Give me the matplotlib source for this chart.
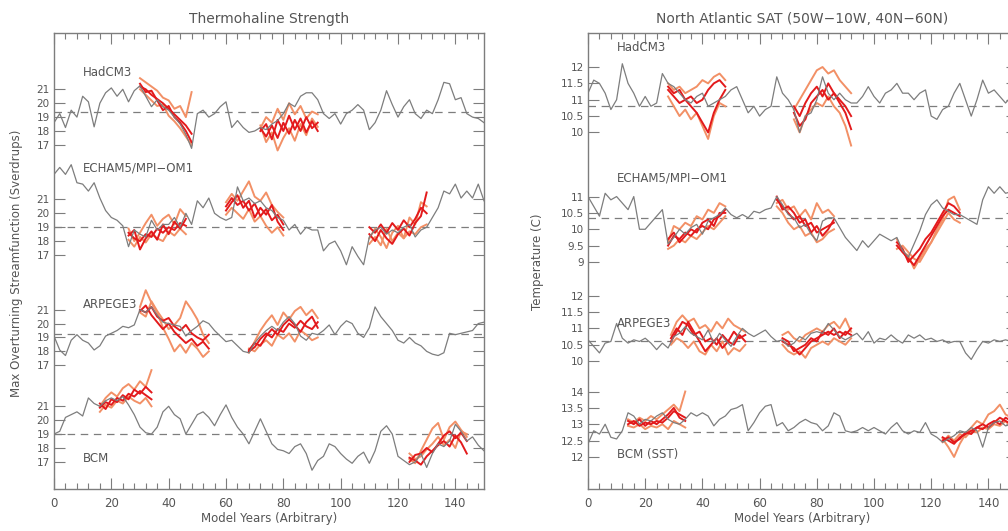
import numpy as np
import matplotlib
matplotlib.use("Agg")
import matplotlib.pyplot as plt
from matplotlib.ticker import MultipleLocator

# ---------------- DATA ----------------
# control runs, one value every 2 model years (0..150)
L_HAD = [18.6,19.25,18.25,19.5,19.0,20.5,20.1,18.3,20.0,20.75,
         21.1,20.5,21.0,20.1,20.9,21.25,20.5,19.75,20.25,19.75,
         19.5,19.0,18.5,17.75,16.75,19.25,19.5,19.0,19.25,19.75,
         20.1,18.25,18.75,18.25,17.9,18.0,18.25,18.1,18.5,18.75,
         19.25,20.0,19.75,20.5,20.75,20.75,20.25,19.25,18.9,19.25,
         18.5,19.25,19.5,19.9,19.5,18.1,18.6,19.5,20.9,19.9,
         19.0,19.75,20.25,19.25,18.9,19.5,19.25,20.25,21.5,21.4,
         20.25,20.4,19.25,19.0,18.9,18.6]
L_ECH = [22.8,23.3,22.8,23.5,22.2,22.1,21.6,22.2,21.1,20.2,
         19.7,19.5,19.1,17.6,18.8,18.5,18.3,19.5,18.8,19.2,
         19.2,19.7,19.0,20.0,19.2,20.9,20.4,21.1,20.0,19.7,
         19.5,19.7,21.9,20.9,21.1,20.7,20.9,20.4,20.2,19.7,
         19.5,18.8,19.2,18.5,19.0,18.8,18.8,17.3,17.8,18.0,
         17.3,16.3,17.6,16.9,16.3,18.3,18.8,19.0,18.5,18.8,
         18.6,19.0,19.2,18.3,18.8,19.0,19.7,20.4,21.6,21.4,
         22.1,21.1,21.6,21.1,22.1,20.9]
L_ARP = [19.1,18.1,17.7,18.8,19.2,18.8,18.6,18.1,18.4,19.1,
         19.3,19.5,19.8,19.7,19.9,21.0,20.8,21.2,20.6,20.1,
         20.0,19.9,19.8,19.1,19.5,19.8,20.2,20.0,19.5,19.1,
         18.7,18.8,18.4,18.0,17.9,18.6,19.1,19.5,19.8,19.5,
         20.1,20.5,20.0,19.1,18.8,19.3,19.2,19.5,19.9,19.2,
         19.8,20.2,20.0,19.3,19.0,19.7,21.2,20.5,20.0,19.5,
         18.8,18.6,19.0,18.6,18.4,18.0,17.8,17.7,17.9,19.3,
         19.2,19.3,19.4,19.5,20.0,20.1]
L_BCM = [19.0,19.2,20.2,20.4,20.6,20.3,21.6,21.2,21.0,21.4,
         21.6,21.4,21.7,21.1,20.4,19.5,19.1,19.0,19.5,20.6,
         21.0,20.4,20.1,19.0,19.7,20.4,20.6,20.2,19.6,20.4,
         21.1,20.2,19.5,19.0,18.3,19.2,20.1,19.2,18.3,17.9,
         17.8,17.6,18.1,18.3,17.6,16.4,17.1,17.4,18.3,18.1,
         17.6,17.2,16.9,17.4,17.7,16.9,17.8,19.2,19.6,19.0,
         17.4,17.1,16.8,17.0,17.6,16.6,17.6,18.3,18.1,18.5,
         19.7,19.2,18.5,18.8,18.2,17.8]

R_HAD = [11.2,11.6,11.5,11.2,10.7,11.0,12.1,11.5,11.2,10.8,
         11.1,10.8,10.9,11.8,11.5,11.4,11.2,11.0,10.9,11.1,
         11.2,10.8,10.9,11.0,11.1,11.3,11.4,11.0,10.6,10.8,
         10.5,10.7,10.8,11.7,11.2,11.0,10.7,10.0,10.5,10.6,
         11.0,11.7,11.2,11.0,11.2,11.0,10.9,10.9,11.1,11.4,
         11.1,10.9,11.2,11.3,11.5,11.2,11.2,11.0,11.2,11.3,
         10.5,10.4,10.7,10.8,11.2,11.5,11.0,10.5,11.0,11.6,
         11.2,11.3,11.1,10.9,11.1,11.0]
R_ECH = [11.0,10.7,10.4,11.1,10.9,11.0,10.8,10.6,11.0,10.0,
         10.0,10.2,10.4,10.6,9.55,9.75,10.0,9.85,10.05,10.15,
         9.85,10.25,10.35,10.45,10.65,10.45,10.35,10.45,10.35,10.55,
         10.5,10.6,10.65,11.0,10.75,10.45,10.35,10.05,10.15,9.85,
         9.65,10.25,10.35,10.35,10.05,9.75,9.55,9.35,9.65,9.45,
         9.65,9.85,9.75,9.65,9.75,9.35,9.15,9.55,9.95,10.45,
         10.75,10.9,10.65,10.55,10.45,10.45,10.35,10.25,10.15,10.9,
         11.3,11.1,11.3,11.1,11.15,11.1]
R_ARP = [10.65,10.45,10.25,10.55,10.6,11.15,10.7,10.55,10.65,10.6,
         10.7,10.55,10.35,10.55,10.4,10.75,10.85,11.05,10.85,10.75,
         10.65,10.95,10.55,10.85,10.65,10.45,10.75,11.0,10.85,10.75,
         10.85,10.95,10.75,10.6,10.65,10.45,10.55,10.75,10.65,10.85,
         10.9,10.85,11.15,10.95,10.75,10.65,10.75,10.85,10.65,10.9,
         10.55,10.7,10.65,10.8,10.65,10.55,10.8,10.7,10.8,10.65,
         10.7,10.6,10.65,10.55,10.6,10.6,10.25,10.05,10.35,10.6,
         10.55,10.65,10.6,10.65,10.6,10.65]
R_BCM = [12.4,12.8,12.7,13.0,12.6,12.55,12.8,13.35,13.25,13.0,
         13.15,13.1,13.25,13.35,13.15,13.05,13.0,13.15,13.35,13.25,
         13.35,13.25,12.95,13.15,13.25,13.45,13.5,13.6,12.8,13.05,
         13.35,13.55,13.6,12.95,13.05,12.8,12.9,13.05,13.15,13.05,
         13.0,12.8,12.95,13.35,13.25,12.8,12.75,12.8,12.9,12.8,
         12.9,12.8,12.7,12.9,13.05,12.8,12.7,12.8,12.75,13.05,
         12.7,12.6,12.45,12.55,12.65,12.8,12.75,12.9,12.8,12.3,
         12.9,13.05,13.1,12.95,13.0,12.95]

# long-term means (dashed lines)
L_MEANS = [19.35, 19.0, 19.25, 19.0]
R_MEANS = [10.8, 10.35, 10.6, 12.75]

# perturbed ensembles: start year, members every 2 years [red, red, orange, orange]
L_HAD_E1_YR0 = 30
L_HAD_E1 = [[21.2,21.0,20.6,20.3,20.0,19.6,19.2,18.8,18.4,17.8],
            [21.4,20.8,20.9,20.2,19.5,19.8,19.0,18.6,18.0,17.2],
            [21.8,21.5,21.2,20.9,20.4,20.2,19.6,19.8,19.0,20.8],
            [21.0,20.6,20.2,19.8,19.9,19.1,18.7,18.2,17.6,17.0]]
L_HAD_E2_YR0 = 72
L_HAD_E2 = [[18.2,17.6,18.4,17.5,18.6,17.8,18.8,18.0,19.0,18.2,18.6],
            [18.0,18.5,17.4,18.8,18.0,19.1,18.1,18.9,17.9,18.7,18.0],
            [18.4,17.2,17.9,16.6,17.5,18.2,17.3,18.5,17.7,18.9,18.3],
            [18.2,19.0,18.6,19.6,18.8,20.0,19.2,19.8,18.9,19.4,19.2]]
L_ECH_E1_YR0 = 26
L_ECH_E1 = [[18.6,18.2,18.0,18.5,18.3,18.9,18.6,19.0,18.8,19.3,19.1],
            [18.4,18.8,17.4,18.2,18.7,18.1,19.2,18.5,19.4,18.9,19.6],
            [18.9,18.0,18.6,19.3,19.9,19.1,19.6,19.9,19.2,20.3,19.8],
            [18.1,17.6,18.3,17.9,18.5,18.2,18.0,18.7,18.4,18.9,18.5]]
L_ECH_E2_YR0 = 60
L_ECH_E2 = [[20.5,21.1,20.6,20.9,20.2,20.7,19.8,20.3,19.5,19.9,19.2],
            [20.2,20.8,21.3,20.4,20.9,19.7,20.4,19.9,20.6,19.4,18.8],
            [20.8,21.4,20.9,21.6,22.3,21.2,20.9,21.5,20.6,20.1,19.7],
            [19.9,20.4,20.0,19.6,20.3,19.4,19.8,19.1,18.6,19.0,18.4]]
L_ECH_E3_YR0 = 110
L_ECH_E3 = [[18.5,18.0,18.8,18.2,17.8,18.5,18.9,18.4,19.3,19.8,21.5],
            [19.0,18.6,19.2,18.6,19.3,18.8,19.5,19.0,19.6,20.4,20.0],
            [18.2,18.9,18.3,17.5,18.6,19.1,18.2,19.7,19.2,20.8,20.5],
            [17.8,18.3,17.7,18.9,18.0,18.6,18.2,18.7,18.5,19.0,19.2]]
L_ARP_E1_YR0 = 30
L_ARP_E1 = [[21.0,20.8,21.2,20.5,20.2,20.4,19.8,19.5,19.9,19.3,19.0,18.8,19.2],
            [20.9,21.3,20.6,20.1,19.6,20.0,19.4,19.0,18.6,18.9,18.4,18.7,18.2],
            [21.2,22.4,21.5,20.8,19.7,18.9,18.0,18.5,17.9,18.6,18.2,17.6,18.0],
            [20.8,20.5,21.6,20.9,20.3,19.6,19.9,20.4,21.6,21.0,20.3,19.2,18.6]]
L_ARP_E2_YR0 = 68
L_ARP_E2 = [[18.0,18.3,18.9,19.3,19.0,19.6,19.4,20.0,19.7,20.2,19.8,19.6,20.1],
            [18.1,18.6,18.4,19.1,19.6,19.2,19.9,20.3,19.9,19.4,20.1,20.5,19.7],
            [17.9,18.7,19.5,20.1,20.6,19.9,20.8,20.3,20.9,21.2,20.6,21.0,20.4],
            [18.2,18.0,18.5,18.8,18.4,19.2,18.9,19.3,18.7,19.5,19.2,18.8,19.0]]
L_BCM_E1_YR0 = 16
L_BCM_E1 = [[20.9,21.3,21.1,21.6,21.4,21.9,21.7,22.1,21.8,21.5],
            [21.2,20.8,21.5,21.3,21.8,21.5,22.2,21.9,22.4,22.0],
            [21.0,21.6,22.0,21.7,22.3,22.6,22.2,22.8,22.4,23.6],
            [20.6,21.1,20.9,21.4,21.2,21.7,21.4,21.2,21.6,21.0]]
L_BCM_E2_YR0 = 124
L_BCM_E2 = [[17.3,17.1,16.8,17.4,17.8,18.2,18.5,18.1,18.9,18.4,17.6],
            [17.0,17.5,17.6,18.0,17.7,18.3,18.9,19.2,18.7,19.1,18.5],
            [17.2,16.9,17.8,18.6,19.4,19.8,18.6,19.5,19.9,19.3,18.8],
            [17.6,17.2,17.4,17.9,18.3,18.8,18.2,18.6,18.0,19.2,19.0]]

R_HAD_E1_YR0 = 28
R_HAD_E1 = [[11.3,11.1,10.9,11.0,10.8,10.6,10.3,10.0,10.6,11.0,11.3],
            [11.4,11.2,11.3,11.0,11.1,10.9,11.0,11.3,11.5,11.6,11.4],
            [11.1,10.8,10.5,10.7,10.4,10.6,10.2,9.8,10.5,10.9,10.8],
            [11.5,11.3,11.4,11.2,11.3,11.4,11.6,11.5,11.7,11.8,11.6]]
R_HAD_E2_YR0 = 72
R_HAD_E2 = [[10.6,10.2,10.4,10.9,11.1,11.3,11.0,11.2,10.9,10.6,10.1],
            [10.8,10.5,10.9,11.2,11.4,11.1,11.5,11.2,11.0,10.8,10.5],
            [10.7,11.0,11.3,11.6,11.9,12.0,11.8,11.9,11.6,11.4,11.2],
            [10.4,10.0,10.5,10.7,10.9,10.8,11.1,10.8,10.6,10.2,9.6]]
R_ECH_E1_YR0 = 28
R_ECH_E1 = [[9.5,9.8,9.7,9.9,9.8,10.0,10.1,10.0,10.3,10.4,10.6],
            [9.7,9.9,9.6,9.8,10.0,9.9,10.2,10.3,10.1,10.5,10.5],
            [9.6,10.1,10.0,10.2,10.1,10.4,10.3,10.6,10.5,10.8,10.7],
            [9.4,9.5,9.7,9.6,9.8,9.7,9.9,10.1,10.0,10.2,10.4]]
R_ECH_E2_YR0 = 66
R_ECH_E2 = [[10.9,10.7,10.5,10.3,10.4,10.1,10.2,9.9,10.0,10.1,10.2],
            [11.0,10.6,10.7,10.5,10.2,10.3,9.9,10.1,9.8,10.0,10.3],
            [10.8,10.9,10.6,10.7,10.4,10.6,10.3,10.8,10.5,10.6,10.4],
            [10.7,10.5,10.2,10.0,10.1,9.8,9.9,9.6,9.7,9.9,10.0]]
R_ECH_E3_YR0 = 108
R_ECH_E3 = [[9.5,9.3,9.1,8.9,9.2,9.5,9.8,10.1,10.4,10.6,10.5,10.4],
            [9.6,9.4,9.0,9.2,9.4,9.7,9.9,10.2,10.5,10.8,10.7,10.5],
            [9.7,9.3,9.2,8.8,9.1,9.4,9.6,10.0,10.3,10.9,11.0,10.6],
            [9.4,9.5,9.3,9.1,9.0,9.3,9.6,9.9,10.2,10.5,10.3,10.2]]
R_ARP_E1_YR0 = 29
R_ARP_E1 = [[10.6,10.9,11.2,11.1,10.8,10.9,10.6,10.7,10.5,10.8,10.6,10.9,10.7,10.8],
            [10.7,11.0,10.8,11.2,10.9,10.6,10.3,10.5,10.7,10.4,10.6,10.5,10.8,10.6],
            [10.8,11.2,11.4,11.2,11.3,11.0,11.1,10.9,11.2,11.0,11.3,11.1,11.0,10.9],
            [10.5,10.7,10.6,10.4,10.6,10.3,10.2,10.5,10.3,10.6,10.2,10.4,10.3,10.5]]
R_ARP_E2_YR0 = 68
R_ARP_E2 = [[10.6,10.5,10.4,10.2,10.4,10.6,10.7,10.8,10.9,10.8,10.9,10.8,11.0],
            [10.7,10.6,10.3,10.4,10.5,10.7,10.6,10.9,10.8,11.0,10.7,10.9,10.8],
            [10.8,10.9,10.7,10.6,10.8,10.9,11.0,10.9,11.1,11.2,11.0,11.3,10.9],
            [10.5,10.3,10.2,10.3,10.1,10.4,10.5,10.6,10.5,10.7,10.6,10.5,10.7]]
R_BCM_E1_YR0 = 14
R_BCM_E1 = [[13.0,13.1,12.95,13.05,13.0,13.1,13.05,13.2,13.4,13.3,13.2],
            [13.1,13.0,13.15,12.95,13.1,13.0,13.15,13.3,13.5,13.2,13.1],
            [13.15,13.05,13.2,13.1,13.25,13.15,13.3,13.45,13.6,13.4,14.0],
            [12.95,12.9,13.0,12.85,12.95,12.9,13.0,12.85,13.1,13.0,12.9]]
R_BCM_E2_YR0 = 124
R_BCM_E2 = [[12.6,12.5,12.4,12.6,12.7,12.8,12.9,12.85,13.0,13.1,13.0,13.2,13.1],
            [12.5,12.6,12.45,12.55,12.75,12.7,12.9,13.0,12.9,13.05,13.2,13.1,13.0],
            [12.55,12.3,12.0,12.4,12.7,12.9,13.1,13.0,13.3,13.4,13.6,13.3,13.2],
            [12.45,12.65,12.5,12.7,12.6,12.8,12.75,12.9,12.85,13.0,12.95,13.1,12.9]]

MODELS_L = ["HadCM3", "ECHAM5/MPI\u2212OM1", "ARPEGE3", "BCM"]
MODELS_R = ["HadCM3", "ECHAM5/MPI\u2212OM1", "ARPEGE3", "BCM (SST)"]
L_TICKS = [[21, 20, 19, 18, 17]] * 4
R_TICKS = [[12, 11.5, 11, 10.5, 10], [11, 10.5, 10, 9.5, 9],
           [12, 11.5, 11, 10.5, 10], [14, 13.5, 13, 12.5, 12]]
X_TICKS = [0, 20, 40, 60, 80, 100, 120, 140]

# ---------------- LAYOUT / STYLE ----------------
GRAY = "#7d7d7d"
TXT = "#555555"
RED = "#e31a1c"
ORANGE = "#f29066"
L_OFFS = [7.75, -0.17, -8.1, -15.05]
R_OFFS = [0.90, -2.06, -6.09, -11.02]
L_YLIM = 32.8
R_YLIM = 13.94
L_LABEL_Y = [0.914, 0.704, 0.404, 0.066]
R_LABEL_Y = [0.969, 0.682, 0.364, 0.075]

fig = plt.figure(figsize=(10.08, 5.31), dpi=100)
axL = fig.add_axes([54 / 1008, 1 - 489 / 531, 430 / 1008, 456 / 531])
axR = fig.add_axes([588 / 1008, 1 - 489 / 531, 429 / 1008, 456 / 531])


def draw_panel(ax, ctrls, means, ens, offs, ticks, names, label_y, ylim):
    ypos, ylab = [], []
    for ctrl, mean, e, off, tk, name, ly in zip(ctrls, means, ens, offs,
                                                 ticks, names, label_y):
        yrs = np.arange(len(ctrl)) * 2
        ax.axhline(mean + off, color=GRAY, lw=0.9, ls=(0, (6, 4.5)), zorder=1)
        for yr0, members in e:
            for i, m in enumerate(members):
                m = np.asarray(m)
                x = yr0 + np.arange(len(m)) * 2
                col = RED if i < 2 else ORANGE
                z = 3 if i < 2 else 2
                ax.plot(x, m + off, color=col, lw=1.4, zorder=z)
        ax.plot(yrs, np.asarray(ctrl) + off, color=GRAY, lw=0.9, zorder=4)
        ax.text(10, ly, name, transform=ax.get_xaxis_transform(),
                fontsize=8.5, color=TXT, ha="left", va="center", zorder=5)
        for t in tk:
            ypos.append(t + off)
            ylab.append("%g" % t)
    ax.set_yticks(ypos)
    ax.set_yticklabels(ylab)
    ax.set_xlim(0, 150)
    ax.set_ylim(0, ylim)
    ax.set_xticks(X_TICKS)
    ax.xaxis.set_minor_locator(MultipleLocator(4))
    ax.tick_params(axis="both", which="both", direction="in", colors=GRAY,
                   labelcolor=TXT, labelsize=7.5, top=True, right=True)
    ax.tick_params(axis="both", which="major", length=8, width=0.8)
    ax.tick_params(axis="x", which="minor", length=4, width=0.8)
    ax.tick_params(axis="x", labelsize=8.5, pad=6)
    ax.tick_params(axis="y", pad=3)
    for s in ax.spines.values():
        s.set_color(GRAY)
        s.set_linewidth(1.0)
    ax.set_xlabel("Model Years (Arbitrary)", fontsize=8.5, color=TXT,
                  labelpad=1)


draw_panel(axL, [L_HAD, L_ECH, L_ARP, L_BCM], L_MEANS,
           [[(L_HAD_E1_YR0, L_HAD_E1), (L_HAD_E2_YR0, L_HAD_E2)],
            [(L_ECH_E1_YR0, L_ECH_E1), (L_ECH_E2_YR0, L_ECH_E2),
             (L_ECH_E3_YR0, L_ECH_E3)],
            [(L_ARP_E1_YR0, L_ARP_E1), (L_ARP_E2_YR0, L_ARP_E2)],
            [(L_BCM_E1_YR0, L_BCM_E1), (L_BCM_E2_YR0, L_BCM_E2)]],
           L_OFFS, L_TICKS, MODELS_L, L_LABEL_Y, L_YLIM)
draw_panel(axR, [R_HAD, R_ECH, R_ARP, R_BCM], R_MEANS,
           [[(R_HAD_E1_YR0, R_HAD_E1), (R_HAD_E2_YR0, R_HAD_E2)],
            [(R_ECH_E1_YR0, R_ECH_E1), (R_ECH_E2_YR0, R_ECH_E2),
             (R_ECH_E3_YR0, R_ECH_E3)],
            [(R_ARP_E1_YR0, R_ARP_E1), (R_ARP_E2_YR0, R_ARP_E2)],
            [(R_BCM_E1_YR0, R_BCM_E1), (R_BCM_E2_YR0, R_BCM_E2)]],
           R_OFFS, R_TICKS, MODELS_R, R_LABEL_Y, R_YLIM)

axL.set_title("Thermohaline Strength", fontsize=10, color=TXT, pad=7)
axR.set_title("North Atlantic SAT (50W\u221210W, 40N\u221260N)", fontsize=10,
              color=TXT, pad=7)
fig.text(17 / 1008, 1 - 263 / 531, "Max Overturning Streamfunction (Sverdrups)",
         rotation=90, ha="center", va="center", fontsize=8.5, color=TXT)
fig.text(538 / 1008, 1 - 262 / 531, "Temperature (C)",
         rotation=90, ha="center", va="center", fontsize=8.5, color=TXT)

fig.savefig("out.png", dpi=100)
